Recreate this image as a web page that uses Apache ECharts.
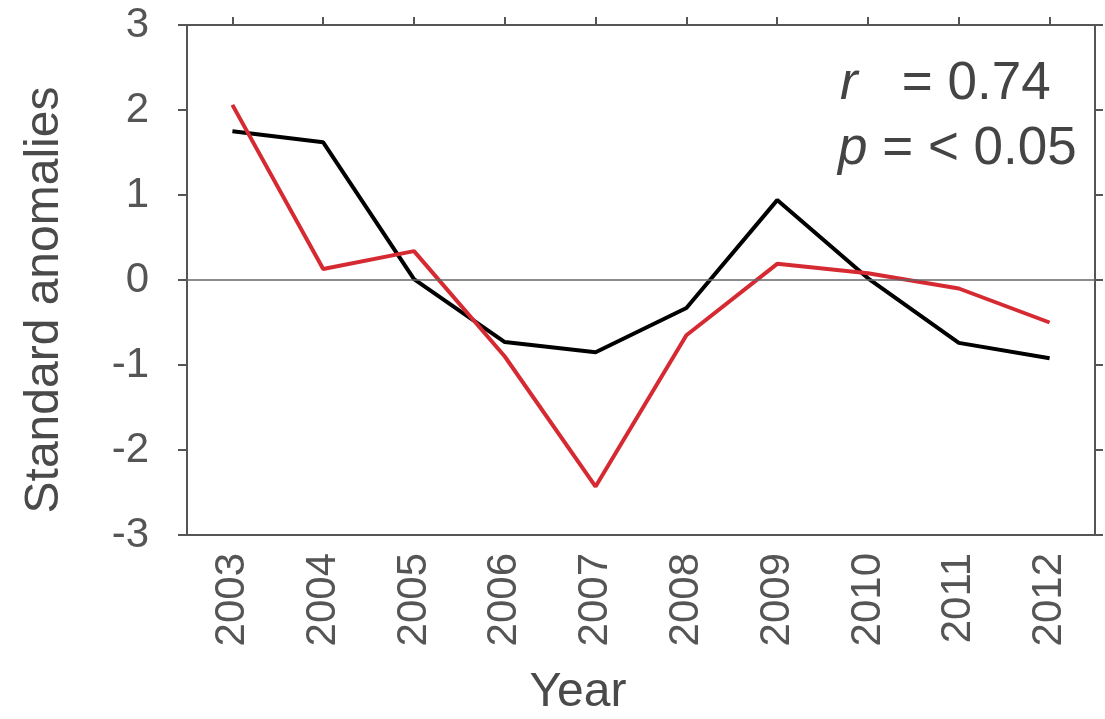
<!DOCTYPE html>
<html>
<head>
<meta charset="utf-8">
<script src="https://cdn.jsdelivr.net/npm/echarts@6/dist/echarts.min.js"></script>
<style>
  html, body { margin: 0; padding: 0; background: #fff; }
  #chart { width: 1105px; height: 719px; }
</style>
</head>
<body>
<div id="chart"></div>
<script>
// years on the x axis
var years = ['2003', '2004', '2005', '2006', '2007', '2008', '2009', '2010', '2011', '2012'];
// black series
var blackSeries = [1.75, 1.62, 0.01, -0.73, -0.85, -0.33, 0.94, 0.02, -0.74, -0.92];
// red series
var redSeries = [2.06, 0.13, 0.34, -0.9, -2.43, -0.65, 0.19, 0.08, -0.1, -0.5];
// y ticks
var yMin = -3, yMax = 3, yStep = 1;

var font = 'Liberation Sans';
var axisColor = '#555';

let chart = echarts.init(document.getElementById('chart'));
chart.setOption({
  animation: false,
  grid: {
    left: 187,
    right: 10,
    top: 25,
    bottom: 184,
    containLabel: false,
    outerBoundsMode: 'none'
  },
  xAxis: [
    {
      type: 'category',
      data: years,
      position: 'bottom',
      boundaryGap: true,
      name: 'Year',
      nameLocation: 'middle',
      nameGap: 134,
      nameTextStyle: { fontFamily: font, fontSize: 48, color: '#4a4a4a', padding: [0, 126, 0, 0] },
      axisLine: { onZero: false, lineStyle: { color: axisColor, width: 2 } },
      axisTick: { alignWithLabel: true, length: 8, lineStyle: { color: axisColor, width: 2 } },
      axisLabel: { rotate: 90, margin: 18, fontFamily: font, fontSize: 42, color: axisColor },
      splitLine: { show: false }
    },
    {
      type: 'category',
      data: years,
      position: 'top',
      boundaryGap: true,
      axisLine: { show: true, onZero: false, lineStyle: { color: axisColor, width: 2 } },
      axisTick: { show: true, alignWithLabel: true, length: 8, lineStyle: { color: axisColor, width: 2 } },
      axisLabel: { show: false },
      splitLine: { show: false }
    }
  ],
  yAxis: [
    {
      type: 'value',
      min: yMin,
      max: yMax,
      interval: yStep,
      position: 'left',
      name: 'Standard anomalies',
      nameLocation: 'middle',
      nameGap: 118,
      nameTextStyle: { fontFamily: font, fontSize: 48, color: '#4a4a4a', padding: [0, 40, 0, 0] },
      axisLine: { show: true, onZero: false, lineStyle: { color: axisColor, width: 2 } },
      axisTick: { show: true, length: 9, lineStyle: { color: axisColor, width: 2 } },
      axisLabel: { margin: 38, fontFamily: font, fontSize: 42, color: axisColor },
      splitLine: { show: false }
    },
    {
      type: 'value',
      min: yMin,
      max: yMax,
      interval: yStep,
      position: 'right',
      axisLine: { show: true, onZero: false, lineStyle: { color: axisColor, width: 2 } },
      axisTick: { show: true, length: 8, lineStyle: { color: axisColor, width: 2 } },
      axisLabel: { show: false },
      splitLine: { show: false }
    }
  ],
  graphic: [
    {
      type: 'text',
      left: 840,
      top: 58,
      style: {
        text: '{i|r}{n|   = 0.74}',
        rich: {
          i: { fontFamily: font, fontSize: 53, fontStyle: 'italic', fill: '#444' },
          n: { fontFamily: font, fontSize: 53, fill: '#444' }
        }
      }
    },
    {
      type: 'text',
      left: 838,
      top: 123,
      style: {
        text: '{i|p}{n| = < 0.05}',
        rich: {
          i: { fontFamily: font, fontSize: 53, fontStyle: 'italic', fill: '#444' },
          n: { fontFamily: font, fontSize: 53, fill: '#444' }
        }
      }
    }
  ],
  series: [
    {
      name: 'black',
      type: 'line',
      data: blackSeries,
      symbol: 'none',
      z: 3,
      lineStyle: { color: '#000', width: 4 },
      markLine: {
        silent: true,
        symbol: 'none',
        label: { show: false },
        lineStyle: { color: '#666', width: 1.5, type: 'solid' },
        data: [{ yAxis: 0 }]
      }
    },
    {
      name: 'red',
      type: 'line',
      data: redSeries,
      symbol: 'none',
      z: 4,
      lineStyle: { color: '#d62a33', width: 4 }
    }
  ]
});
</script>
</body>
</html>
